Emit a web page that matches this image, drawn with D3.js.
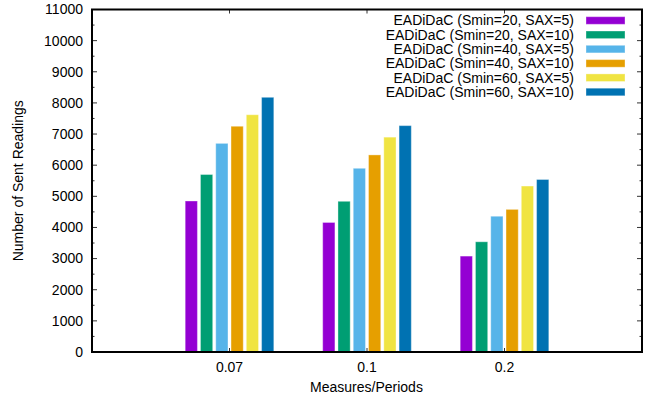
<!DOCTYPE html>
<html>
<head>
<meta charset="utf-8">
<script src="https://cdn.jsdelivr.net/npm/d3@7"></script>
<style>
  body { margin: 0; background: #fff; }
  svg { display: block; font-family: "Liberation Sans", Arial, sans-serif; }
</style>
</head>
<body>
<div id="chart"></div>
<script>
// categories on the x axis
const categories = ["0.07", "0.1", "0.2"];
// series names (legend)
const seriesNames = [
  "EADiDaC (Smin=20, SAX=5)",
  "EADiDaC (Smin=20, SAX=10)",
  "EADiDaC (Smin=40, SAX=5)",
  "EADiDaC (Smin=40, SAX=10)",
  "EADiDaC (Smin=60, SAX=5)",
  "EADiDaC (Smin=60, SAX=10)"
];
// values per series, one per category
const s20_5 = [4850, 4160, 3080];
const s20_10 = [5700, 4840, 3540];
const s40_5 = [6700, 5900, 4360];
const s40_10 = [7250, 6330, 4580];
const s60_5 = [7620, 6900, 5330];
const s60_10 = [8180, 7270, 5540];
const seriesValues = [s20_5, s20_10, s40_5, s40_10, s60_5, s60_10];
const colors = ["#9400d3", "#009e73", "#56b4e9", "#e69f00", "#f0e442", "#0072b2"];
const yTicks = d3.range(0, 11001, 1000);

const W = 645, H = 402;
const mLeft = 92, mRight = 642, mTop = 9.5, mBottom = 352;

const svg = d3.select("#chart").append("svg")
  .attr("width", W).attr("height", H);

// gnuplot style clustered histogram: groups at 0,1,2, range -1..3
const x = d3.scaleLinear().domain([-1, 3]).range([mLeft, mRight]);
const y = d3.scaleLinear().domain([0, 11000]).range([mBottom, mTop]);

const nSeries = seriesNames.length;
const slot = 1 / (nSeries + 3); // gap of 3
const barW = 0.8 * slot;

// bars
const g = svg.append("g");
seriesValues.forEach(function (vals, j) {
  g.selectAll(null)
    .data(vals)
    .enter()
    .append("rect")
    .attr("x", function (d, i) { return x(i + (j - (nSeries - 1) / 2) * slot - barW / 2); })
    .attr("width", function () { return x(barW) - x(0); })
    .attr("y", function (d) { return y(d); })
    .attr("height", function (d) { return mBottom - y(d); })
    .attr("fill", colors[j])
    .attr("stroke", "#fff")
    .attr("stroke-opacity", 0.35)
    .attr("stroke-width", 1);
});

// y ticks (left + mirror on right), minor ticks at half steps
const minor = d3.range(500, 11000, 1000);
const tk = svg.append("g").attr("stroke", "#333").attr("stroke-width", 1);
yTicks.forEach(function (v) {
  tk.append("line").attr("x1", mLeft).attr("x2", mLeft + 5).attr("y1", y(v)).attr("y2", y(v));
  tk.append("line").attr("x1", mRight).attr("x2", mRight - 5).attr("y1", y(v)).attr("y2", y(v));
});
minor.forEach(function (v) {
  tk.append("line").attr("x1", mLeft).attr("x2", mLeft + 2.5).attr("y1", y(v)).attr("y2", y(v));
  tk.append("line").attr("x1", mRight).attr("x2", mRight - 2.5).attr("y1", y(v)).attr("y2", y(v));
});
categories.forEach(function (c, i) {
  tk.append("line").attr("x1", x(i)).attr("x2", x(i)).attr("y1", mBottom).attr("y2", mBottom - 4);
  tk.append("line").attr("x1", x(i)).attr("x2", x(i)).attr("y1", mTop).attr("y2", mTop + 4);
});

// y tick labels
svg.append("g").selectAll("text")
  .data(yTicks).enter().append("text")
  .attr("x", mLeft - 9)
  .attr("y", function (d) { return y(d); })
  .attr("dy", "0.35em")
  .attr("text-anchor", "end")
  .attr("font-size", 14)
  .text(function (d) { return d; });

// x tick labels
svg.append("g").selectAll("text")
  .data(categories).enter().append("text")
  .attr("x", function (d, i) { return x(i); })
  .attr("y", 372)
  .attr("text-anchor", "middle")
  .attr("font-size", 14)
  .text(function (d) { return d; });

// frame
svg.append("rect")
  .attr("x", mLeft).attr("y", mTop)
  .attr("width", mRight - mLeft).attr("height", mBottom - mTop)
  .attr("fill", "none").attr("stroke", "#000").attr("stroke-width", 2);

// axis titles
svg.append("text")
  .attr("transform", "translate(23," + (mTop + mBottom) / 2 + ") rotate(-90)")
  .attr("text-anchor", "middle")
  .attr("font-size", 14)
  .text("Number of Sent Readings");
svg.append("text")
  .attr("x", (mLeft + mRight) / 2 - 0.5)
  .attr("y", 392)
  .attr("text-anchor", "middle")
  .attr("font-size", 14)
  .text("Measures/Periods");

// legend
const leg = svg.append("g");
seriesNames.forEach(function (name, j) {
  const cy = 20.5 + j * 14.3;
  leg.append("text")
    .attr("x", 574).attr("y", cy).attr("dy", "0.35em")
    .attr("text-anchor", "end").attr("font-size", 14)
    .text(name);
  leg.append("rect")
    .attr("x", 586).attr("y", cy - 3.8)
    .attr("width", 39).attr("height", 7.6)
    .attr("fill", colors[j])
    .attr("stroke", "#fff").attr("stroke-opacity", 0.35);
});
</script>
</body>
</html>
